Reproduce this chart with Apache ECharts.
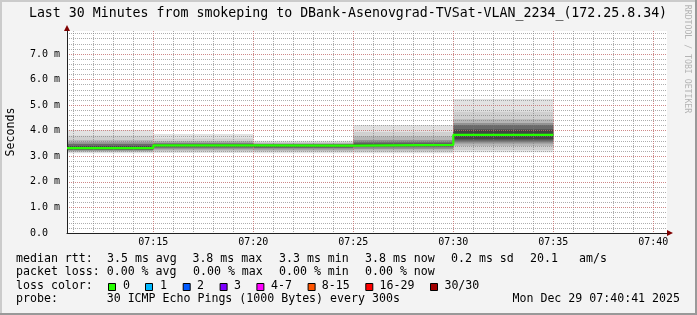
<!DOCTYPE html>
<html><head><meta charset="utf-8">
<script src="https://cdn.jsdelivr.net/npm/echarts@6/dist/echarts.min.js"></script>
<style>html,body{margin:0;padding:0;background:#f3f3f3}#c{width:697px;height:315px}</style>
</head><body><div id="c"></div>
<script>
// ---- data (time = seconds since midnight, values in ms) ----
const xMin = 25841;           // 07:10:41
const xMax = 27641;           // 07:40:41
const yMax = 7.9;
const segStart = [25841, 26100, 26400, 26700, 27000];
const segEnd   = [26100, 26400, 26700, 27000, 27300];
const median   = [3.32, 3.43, 3.42, 3.45, 3.84];
// smoke: upper quantiles (outer -> inner) and lower quantiles (outer -> inner)
const smokeHi = [
  [4.03, 3.80, 3.64, 3.55, 3.48, 3.40],
  [3.87, 3.70, 3.60, 3.54, 3.50, 3.47],
  [3.61, 3.56, 3.52, 3.49, 3.47, 3.45],
  [4.22, 3.95, 3.78, 3.64, 3.55, 3.49],
  [5.24, 4.74, 4.45, 4.30, 4.22, 4.05]
];
const smokeLo = [
  [3.12, 3.16, 3.19, 3.22, 3.25, 3.28],
  [3.13, 3.18, 3.23, 3.28, 3.33, 3.38],
  [3.12, 3.17, 3.22, 3.27, 3.32, 3.37],
  [3.12, 3.17, 3.23, 3.29, 3.35, 3.40],
  [3.16, 3.25, 3.40, 3.50, 3.58, 3.66]
];
const xTickValues = [26100, 26400, 26700, 27000, 27300, 27600];
const xTickLabels = ['07:15', '07:20', '07:25', '07:30', '07:35', '07:40'];
const yTickLabels = ['0.0  ', '1.0 m', '2.0 m', '3.0 m', '4.0 m', '5.0 m', '6.0 m', '7.0 m'];
const titleText = 'Last 30 Minutes from smokeping to DBank-Asenovgrad-TVSat-VLAN_2234_(172.25.8.34)';
const lossLabels = ['0', '1', '2', '3', '4-7', '8-15', '16-29', '30/30'];
const lossColors = ['#26ff00', '#00b8ff', '#0059ff', '#7e00ff', '#ff00ff', '#ff5500', '#ff0000', '#a10000'];
const statRows = [
  ['median rtt:', '3.5 ms avg', '3.8 ms max', '3.3 ms min', '3.8 ms now', '0.2 ms sd', '20.1', 'am/s'],
  ['packet loss:', '0.00 % avg', '0.00 % max', '0.00 % min', '0.00 % now'],
  ['loss color:'],
  ['probe:', '30 ICMP Echo Pings (1000 Bytes) every 300s']
];
const dateText = 'Mon Dec 29 07:40:41 2025';

// ---- styles / layout ----
const MONO = '"DejaVu Sans Mono", monospace';
const smokeColors = ['#e2e2e2', '#d0d0d0', '#b6b6b6', '#939393', '#6a6a6a', '#444444'];
const statX = [
  [16, 107, 192.4, 279, 365, 451, 530, 579],
  [16, 106.7, 193, 279, 365],
  [16],
  [16, 106.7]
];
const rowY = [258.7, 272.2, 285.7, 299.4];
const boxX = [108, 145, 182.7, 219.6, 256.4, 307.6, 365.3, 430];
const lossLabelX = [123, 160, 197, 234, 271, 321.8, 379.6, 444.4];

const smokeData = [];
for (let k = 0; k < smokeColors.length; k++) {
  for (let i = 0; i < segStart.length; i++) {
    smokeData.push([segStart[i], segEnd[i], smokeLo[i][k], smokeHi[i][k], k]);
  }
}
const medianData = segStart.map((s, i) => [s, median[i]]);
medianData.push([segEnd[segEnd.length - 1], median[median.length - 1]]);

const graphics = [
  {type: 'rect', shape: {x: 0, y: 0, width: 697, height: 2}, style: {fill: '#cbcbcb'}, silent: true},
  {type: 'rect', shape: {x: 0, y: 0, width: 2, height: 315}, style: {fill: '#cbcbcb'}, silent: true},
  {type: 'rect', shape: {x: 695, y: 0, width: 2, height: 315}, style: {fill: '#999999'}, silent: true},
  {type: 'rect', shape: {x: 0, y: 313, width: 697, height: 2}, style: {fill: '#999999'}, silent: true},
  {type: 'text', x: 687.5, y: 59, rotation: -Math.PI / 2,
   style: {text: 'RRDTOOL / TOBI OETIKER', font: '8.2px ' + MONO, fill: '#b4b4b4',
           align: 'center', verticalAlign: 'middle', textAlign: 'center', textVerticalAlign: 'middle'}},
  {type: 'text', style: {text: titleText, x: 348, y: 13.7, font: '13.25px ' + MONO, fill: '#000',
           align: 'center', verticalAlign: 'middle', textAlign: 'center', textVerticalAlign: 'middle'}}
];
statRows.forEach((row, r) => {
  row.forEach((t, j) => {
    graphics.push({type: 'text', style: {text: t, x: statX[r][j], y: rowY[r], font: '11.6px ' + MONO, fill: '#000',
      align: 'left', verticalAlign: 'middle', textAlign: 'left', textVerticalAlign: 'middle'}});
  });
});
lossLabels.forEach((t, i) => {
  graphics.push({type: 'rect', shape: {x: boxX[i] + 0.5, y: 283.5, width: 7, height: 7},
    style: {fill: lossColors[i], stroke: '#000', lineWidth: 1}});
  graphics.push({type: 'text', style: {text: t, x: lossLabelX[i], y: rowY[2], font: '11.6px ' + MONO, fill: '#000',
    align: 'left', verticalAlign: 'middle', textAlign: 'left', textVerticalAlign: 'middle'}});
});
graphics.push({type: 'text', style: {text: dateText, x: 680, y: rowY[3], font: '11.6px ' + MONO, fill: '#000',
  align: 'right', verticalAlign: 'middle', textAlign: 'right', textVerticalAlign: 'middle'}});

const minorGrid = {color: 'rgba(120,120,120,0.6)', width: 1, type: [1, 1]};
const majorGrid = {color: 'rgba(240,100,100,0.5)', width: 1, type: [1, 1]};

const chart = echarts.init(document.getElementById('c'), null, {renderer: 'canvas'});
chart.setOption({
  animation: false,
  backgroundColor: '#f3f3f3',
  grid: {left: 67, right: 30, top: 31, bottom: 82, show: true, backgroundColor: '#ffffff', borderWidth: 0,
         containLabel: false, outerBoundsMode: 'none'},
  xAxis: [
    {type: 'value', position: 'bottom', min: xMin, max: xMax, minInterval: 300, maxInterval: 300, z: 6,
     axisLine: {show: true, onZero: false, lineStyle: {color: '#212121', width: 1}},
     axisTick: {show: false},
     axisLabel: {show: true, margin: 4, fontFamily: MONO, fontSize: 10, color: '#000',
       showMinLabel: false, showMaxLabel: false,
       formatter: v => { const i = xTickValues.indexOf(Math.round(v)); return i >= 0 ? xTickLabels[i] : ''; }},
     splitLine: {show: true, showMinLine: false, showMaxLine: false, lineStyle: majorGrid}},
    {type: 'value', position: 'bottom', min: xMin, max: xMax, minInterval: 60, maxInterval: 60, z: 5,
     axisLine: {show: true, onZero: false, lineStyle: {color: '#800000', width: 0},
       symbol: ['none', 'triangle'], symbolSize: [6, 6], symbolOffset: [0, 3]},
     axisTick: {show: false}, axisLabel: {show: false},
     splitLine: {show: true, showMinLine: false, showMaxLine: false, lineStyle: minorGrid}}
  ],
  yAxis: [
    {type: 'value', position: 'left', min: 0, max: yMax, interval: 1, z: 6,
     name: 'Seconds', nameLocation: 'middle', nameGap: 50, nameRotate: 90,
     nameTextStyle: {fontFamily: MONO, fontSize: 11.6, color: '#000'},
     axisLine: {show: true, onZero: false, lineStyle: {color: '#212121', width: 1}},
     axisTick: {show: false},
     axisLabel: {show: true, margin: 7, fontFamily: MONO, fontSize: 10, color: '#000', showMaxLabel: false,
       formatter: v => { const i = Math.round(v); return Math.abs(v - i) < 1e-6 && yTickLabels[i] !== undefined ? yTickLabels[i] : ''; }},
     splitLine: {show: true, showMinLine: false, showMaxLine: false, lineStyle: majorGrid}},
    {type: 'value', position: 'left', min: 0, max: yMax, interval: 0.2, z: 5,
     axisLine: {show: true, onZero: false, lineStyle: {color: '#800000', width: 0},
       symbol: ['none', 'triangle'], symbolSize: [6, 6], symbolOffset: [0, 3]},
     axisTick: {show: false}, axisLabel: {show: false},
     splitLine: {show: true, showMinLine: false, showMaxLine: false, lineStyle: minorGrid}}
  ],
  series: [
    {type: 'custom', name: 'smoke', xAxisIndex: 0, yAxisIndex: 0, z: 2, silent: true,
     encode: {x: [0, 1], y: [2, 3]},
     data: smokeData,
     renderItem: function (params, api) {
       const p0 = api.coord([api.value(0), api.value(3)]);
       const p1 = api.coord([api.value(1), api.value(2)]);
       return {type: 'rect', shape: {x: p0[0], y: p0[1], width: p1[0] - p0[0], height: p1[1] - p0[1]},
               style: {fill: smokeColors[api.value(4)]}};
     }},
    {type: 'line', name: 'median rtt', xAxisIndex: 0, yAxisIndex: 0, z: 10, step: 'end',
     data: medianData, showSymbol: false, symbol: 'none',
     lineStyle: {color: '#26ff00', width: 2.2}}
  ],
  graphic: graphics
});
</script></body></html>
